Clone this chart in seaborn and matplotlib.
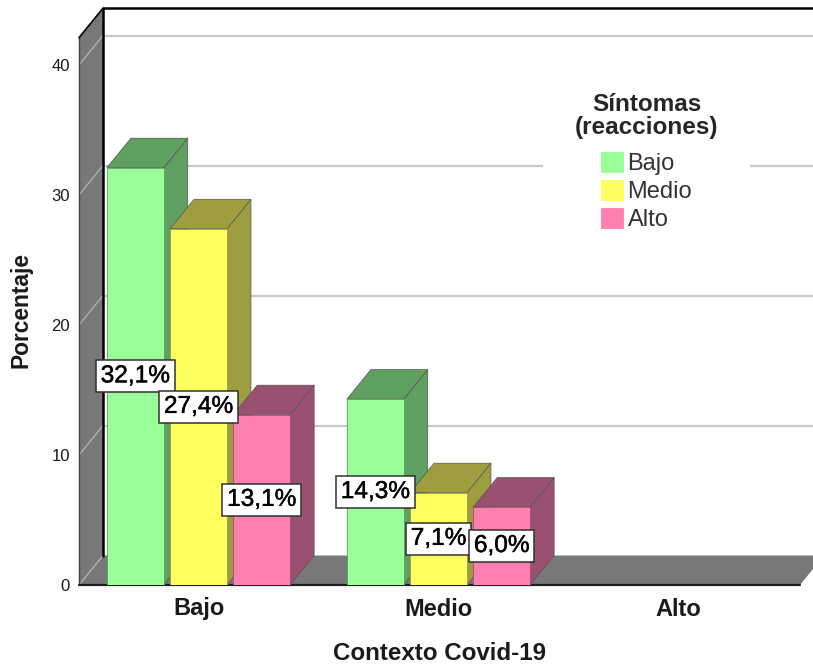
"""Bar chart with a drawn-on 3D look: Síntomas by Contexto Covid-19."""
import matplotlib
matplotlib.use("Agg")
import matplotlib.patheffects as pe
import matplotlib.pyplot as plt
import pandas as pd
import seaborn as sns

contexto = ["Bajo", "Bajo", "Bajo", "Medio", "Medio", "Medio", "Alto", "Alto", "Alto"]
sintomas = ["Bajo", "Medio", "Alto", "Bajo", "Medio", "Alto", "Bajo", "Medio", "Alto"]
porcentaje = [32.1, 27.4, 13.1, 14.3, 7.1, 6.0, 0, 0, 0]
niveles = ["Bajo", "Medio", "Alto"]
y_ticks = [0, 10, 20, 30, 40]

FRONT = {"Bajo": "#99FF99", "Medio": "#FFFF5F", "Alto": "#FF80B0"}
SIDE = {"Bajo": "#5F9F5F", "Medio": "#9E9E40", "Alto": "#9A5070"}
WALL = "#787878"
GRID = "#C8C8C8"

# pixel layout of the plot area
W, H = 813, 666
LEFT, BOTTOM, RIGHT = 79, 585, 813
PX_X, PX_Y = 240, 13  # pixels per data unit
DX, DY = 24 / PX_X, 29.5 / PX_Y  # depth of the 3D effect in data units

sns.set_theme(style="white")
plt.rcParams["font.family"] = ["Liberation Sans", "DejaVu Sans"]

fig = plt.figure(figsize=(W / 100, H / 100), dpi=100)
ax = fig.add_axes([LEFT / W, (H - BOTTOM) / H, (RIGHT - LEFT) / W, BOTTOM / H])

df = pd.DataFrame({"contexto": contexto, "sintomas": sintomas, "porcentaje": porcentaje})
sns.barplot(
    data=df, x="contexto", y="porcentaje", hue="sintomas", hue_order=niveles,
    order=niveles, palette=FRONT, width=0.79, gap=0.1, saturation=1, ax=ax,
    edgecolor="#70A070", linewidth=0.6,
)

x0 = (LEFT - 198.5) / PX_X
x_max = x0 + (RIGHT - LEFT) / PX_X
ax.set_xlim(x0, x_max)
ax.set_ylim(0, BOTTOM / PX_Y)
x_end = x0 + (800 - LEFT) / PX_X
y_top = 42.1

# walls and floor
ax.fill([x0, x0 + DX, x0 + DX, x0], [0, DY, y_top + DY, y_top], color=WALL, zorder=1, lw=0)
ax.fill([x0, x0 + DX, x_end + DX, x_end], [0, DY, DY, 0], color=WALL, zorder=1, lw=0)
for t in y_ticks:
    ax.plot([x0, x0 + DX], [t, t + DY], color="#B0B0B0", lw=1, zorder=1.5)
    if t > 0:
        ax.plot([x0 + DX, x_max], [t + DY, t + DY], color=GRID, lw=1.6, zorder=1)
ax.plot([x0, x0 + DX], [y_top, y_top + DY], color="black", lw=1.2, zorder=2, clip_on=False)
ax.plot([x0, x0], [0, y_top], color="#404040", lw=1, zorder=2, clip_on=False)
ax.plot([x0 + DX, x0 + DX, x_max], [DY, y_top + DY, y_top + DY], color="black", lw=1.8, zorder=2, clip_on=False)
ax.plot([x0, x_end], [0, 0], color="#202020", lw=1.6, zorder=2, clip_on=False)

# side and top faces are built from the bars seaborn drew
for nivel, bars in zip(niveles, ax.containers):
    for rect, val in zip(bars, bars.datavalues):
        left, right = rect.get_x(), rect.get_x() + rect.get_width()
        if val <= 0:
            rect.set_visible(False)
            continue
        z = 3 + left
        rect.set_zorder(z + 0.1)
        rect.set_edgecolor(SIDE[nivel])
        ax.fill([right, right + DX, right + DX, right], [0, DY, val + DY, val],
                color=SIDE[nivel], ec="#555555", lw=0.5, zorder=z)
        ax.fill([left, left + DX, right + DX, right], [val, val + DY, val + DY, val],
                color=SIDE[nivel], ec="#555555", lw=0.5, zorder=z)
        ax.text(
            (left + right) / 2, val / 2, f"{val:.1f}%".replace(".", ","),
            ha="center", va="center", fontsize=17.6, color="black", zorder=20,
            path_effects=[pe.withStroke(linewidth=0.3, foreground="black")],
            bbox=dict(boxstyle="square,pad=0.2", fc="white", ec="#303030", lw=1.1),
        )

ax.set_yticks(y_ticks)
ax.tick_params(axis="x", length=0, pad=9, labelsize=17)
ax.tick_params(axis="y", length=0, pad=6.5, labelsize=12)
for lab in ax.get_xticklabels():
    lab.set_fontweight("bold")
    lab.set_color("#1A1A1A")
for lab in ax.get_yticklabels():
    lab.set_color("#1A1A1A")

ax.set_xlabel("Contexto Covid-19", fontsize=17.4, fontweight="bold", color="#1A1A1A", va="center")
ax.set_ylabel("Porcentaje", fontsize=16.4, fontweight="bold", color="#1A1A1A", va="center")
ax.xaxis.set_label_coords((439 - LEFT) / (RIGHT - LEFT), (BOTTOM - 653) / BOTTOM)
ax.yaxis.set_label_coords((21 - LEFT) / (RIGHT - LEFT), (BOTTOM - 310) / BOTTOM)
sns.despine(ax=ax, left=True, bottom=True)

sns.move_legend(
    ax, "center",
    bbox_to_anchor=((646.5 - LEFT) / (RIGHT - LEFT), (BOTTOM - 162) / BOTTOM),
    title="Síntomas\n(reacciones)", frameon=True, facecolor="white", edgecolor="none",
    framealpha=1, fontsize=17, title_fontproperties={"weight": "bold", "size": 17.5},
    handlelength=0.93, handleheight=0.93, handletextpad=0.2, labelspacing=0.2, borderpad=1.35,
)
leg = ax.get_legend()
leg.get_title().set_multialignment("center")
leg.get_title().set_linespacing(1.0)
leg._legend_box.sep = 9
for handle, nivel in zip(leg.get_patches(), niveles):
    handle.set_edgecolor(FRONT[nivel])
for txt in leg.get_texts():
    txt.set_color("#333333")

fig.savefig("out.png", dpi=100)
plt.close(fig)
